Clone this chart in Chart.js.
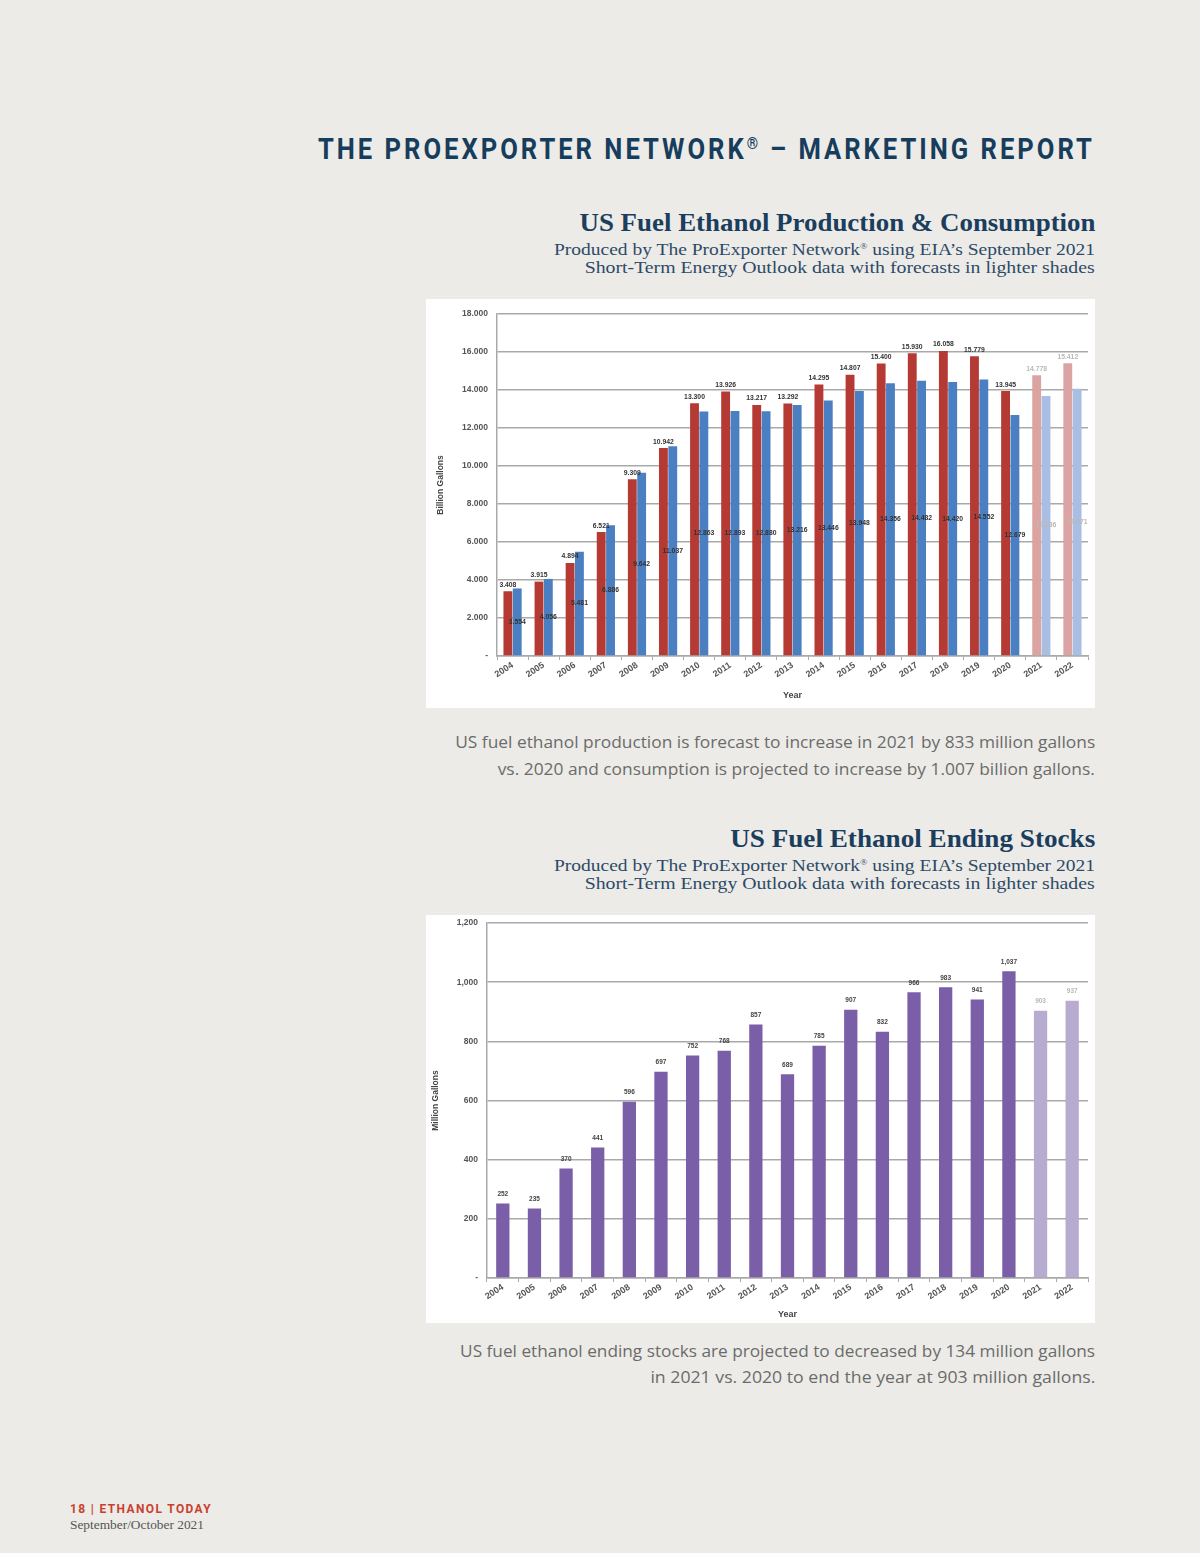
<!DOCTYPE html>
<html>
<head>
<meta charset="utf-8">
<script src="https://cdn.jsdelivr.net/npm/chart.js@4.4.1/dist/chart.umd.min.js"></script>
<style>
  html,body{margin:0;padding:0;}
  body{width:1200px;height:1553px;background:#ecebe7;position:relative;overflow:hidden;}
  .t{position:absolute;white-space:nowrap;margin:0;}
  .r{right:105px;text-align:right;transform-origin:right center;}
  #title{top:128px;font-family:"Roboto","Liberation Sans",sans-serif;font-weight:700;font-size:30px;line-height:30px;color:#173d5d;letter-spacing:3.5px;}
  #title .reg{font-size:17px;vertical-align:10px;letter-spacing:3px;}
  .h{font-family:"Liberation Serif","DejaVu Serif",serif;font-weight:700;font-size:25px;line-height:25px;color:#1c3e5e;}
  .s{font-family:"Liberation Serif","DejaVu Serif",serif;font-size:16px;line-height:16px;color:#2d4a68;}
  .s sup{font-size:8px;vertical-align:6px;line-height:0;}
  .c{font-family:"Open Sans","Lato",sans-serif;font-size:16.5px;line-height:20px;color:#6b6b6b;}
  .box{position:absolute;left:426px;width:669px;background:#ffffff;}
  #foot1{left:70px;top:1502px;font-family:"Roboto","Liberation Sans",sans-serif;font-weight:700;font-size:13px;line-height:13px;color:#c9402e;letter-spacing:1.5px;transform-origin:left center;}
  #foot2{left:70px;top:1519px;font-family:"Liberation Serif",serif;font-size:12px;line-height:12px;color:#555;transform-origin:left center;}
</style>
</head>
<body>
<div id="title" class="t r" data-w="777">THE PROEXPORTER NETWORK<span class="reg">®</span> – MARKETING REPORT</div>

<div class="t r h" style="top:210px" data-w="516">US Fuel Ethanol Production &amp; Consumption</div>
<div class="t r s" style="top:242px" data-w="541">Produced by The ProExporter Network<sup>®</sup> using EIA’s September 2021</div>
<div class="t r s" style="top:260px" data-w="510">Short-Term Energy Outlook data with forecasts in lighter shades</div>

<div class="box" style="top:299px;height:409px;"><canvas id="c1" width="669" height="409"></canvas></div>

<div class="t r c" style="top:732px" data-w="640">US fuel ethanol production is forecast to increase in 2021 by 833 million gallons</div>
<div class="t r c" style="top:759px" data-w="597">vs. 2020 and consumption is projected to increase by 1.007 billion gallons.</div>

<div class="t r h" style="top:826px" data-w="365">US Fuel Ethanol Ending Stocks</div>
<div class="t r s" style="top:858px" data-w="541">Produced by The ProExporter Network<sup>®</sup> using EIA’s September 2021</div>
<div class="t r s" style="top:876px" data-w="510">Short-Term Energy Outlook data with forecasts in lighter shades</div>

<div class="box" style="top:915px;height:408px;"><canvas id="c2" width="669" height="408"></canvas></div>

<div class="t r c" style="top:1341px" data-w="635">US fuel ethanol ending stocks are projected to decreased by 134 million gallons</div>
<div class="t r c" style="top:1367px" data-w="445">in 2021 vs. 2020 to end the year at 903 million gallons.</div>

<div id="foot1" class="t" data-w="142">18 | ETHANOL TODAY</div>
<div id="foot2" class="t" data-w="134">September/October 2021</div>

<script>
// ---------- DATA ----------
const years = ['2004','2005','2006','2007','2008','2009','2010','2011','2012','2013','2014','2015','2016','2017','2018','2019','2020','2021','2022'];
const forecastYears = ['2021','2022'];
const production = [3.408,3.915,4.894,6.521,9.309,10.942,13.300,13.926,13.217,13.292,14.295,14.807,15.400,15.930,16.058,15.779,13.945,14.778,15.412];
const consumption = [3.554,4.056,5.481,6.886,9.642,11.037,12.863,12.893,12.880,13.216,13.446,13.948,14.356,14.482,14.420,14.552,12.679,13.686,14.071];
const endingStocks = [252,235,370,441,596,697,752,768,857,689,785,907,832,966,983,941,1037,903,937];
const ticks1 = [0,2,4,6,8,10,12,14,16,18];
const ticks2 = [0,200,400,600,800,1000,1200];

// ---------- TEXT FITTING (horizontal scale to measured widths) ----------
document.querySelectorAll('[data-w]').forEach(el=>{
  const target = parseFloat(el.dataset.w);
  const w0 = el.getBoundingClientRect().width;
  el.style.transform = 'scaleX(' + (target/w0) + ')';
});

// ---------- CHARTS ----------
const isF = y => forecastYears.includes(y);
const col = (base, light) => years.map(y => isF(y) ? light : base);

const valueLabels = {
  id:'valueLabels',
  afterDatasetsDraw(chart, args, opts){
    const ctx = chart.ctx;
    ctx.save();
    ctx.font = opts.font;
    ctx.textAlign = 'center';
    chart.data.datasets.forEach((ds,i)=>{
      const meta = chart.getDatasetMeta(i);
      const pos = opts.positions[i];
      meta.data.forEach((bar,j)=>{
        const v = ds.data[j];
        const txt = opts.format(v);
        ctx.fillStyle = isF(years[j]) ? opts.lightColor : opts.color;
        let y;
        if(pos==='middle'){ ctx.textBaseline='middle'; y = (bar.y + bar.base)/2; }
        else { ctx.textBaseline='bottom'; y = bar.y - opts.gap; }
        ctx.fillText(txt, bar.x + (opts.dx||0), y);
      });
    });
    ctx.restore();
  }
};

const gridColor = '#a9a9a9';
const fam = 'Liberation Sans, Arial, sans-serif';

function commonX(height, titlePadBottom){
  return {
    offset:true,
    grid:{display:true, drawOnChartArea:false, drawTicks:true, tickLength:4, color:gridColor, offset:true},
    border:{display:true, color:gridColor, width:1.5},
    ticks:{color:'#555', font:{family:fam, size:9, weight:'bold'}, minRotation:33, maxRotation:33, padding:0, autoSkip:false},
    title:{display:true, text:'Year', color:'#444', font:{family:fam, size:9, weight:'bold'}, padding:{top:0,bottom:titlePadBottom}},
    afterFit(s){ s.height = height; }
  };
}
function commonY(width, titleText, titlePad, tickFmt, ticks, max){
  return {
    min:0, max:max,
    afterBuildTicks(s){ s.ticks = ticks.map(v=>({value:v})); },
    grid:{color:gridColor, lineWidth:1.5, drawTicks:false},
    border:{display:true, color:gridColor, width:1.5},
    ticks:{color:'#555', font:{family:fam, size:8.5, weight:'bold'}, padding:9, callback:tickFmt},
    title:{display:true, text:titleText, color:'#444', font:{family:fam, size:8.5, weight:'bold'}, padding:{top:titlePad,bottom:0}},
    afterFit(s){ s.width = width; s.paddingTop = 0; s.paddingBottom = 0; }
  };
}

new Chart(document.getElementById('c1'), {
  type:'bar',
  data:{
    labels: years,
    datasets:[
      {label:'Production', data: production, backgroundColor: col('#b53a34','#dba4a3'), borderWidth:0},
      {label:'Consumption', data: consumption, backgroundColor: col('#4a7fc2','#a9bee2'), borderWidth:0}
    ]
  },
  options:{
    responsive:false, animation:false,
    layout:{padding:{top:15,right:7,left:0,bottom:0}},
    plugins:{
      legend:{display:false}, tooltip:{enabled:false},
      valueLabels:{
        font:'bold 6.8px "Liberation Sans", Arial, sans-serif',
        color:'#333', lightColor:'#b9b9b9', gap:3, dx:0,
        positions:['top','middle'],
        format:v=>v.toFixed(3)
      }
    },
    datasets:{bar:{categoryPercentage:0.6, barPercentage:0.95}},
    scales:{
      x: commonX(52, 7),
      y: commonY(71, 'Billion Gallons', 10, v=> v===0 ? '-' : v.toFixed(3), ticks1, 18)
    }
  },
  plugins:[valueLabels]
});

new Chart(document.getElementById('c2'), {
  type:'bar',
  data:{
    labels: years,
    datasets:[
      {label:'Ending Stocks', data: endingStocks, backgroundColor: col('#7b5ea8','#b8abd0'), borderWidth:0}
    ]
  },
  options:{
    responsive:false, animation:false,
    layout:{padding:{top:8,right:7,left:0,bottom:0}},
    plugins:{
      legend:{display:false}, tooltip:{enabled:false},
      valueLabels:{
        font:'bold 6.5px "Liberation Sans", Arial, sans-serif',
        color:'#444', lightColor:'#b9b9b9', gap:6, dx:0,
        positions:['top'],
        format:v=>v.toLocaleString('en-US')
      }
    },
    datasets:{bar:{categoryPercentage:0.42, barPercentage:1.0}},
    scales:{
      x: commonX(45, 3),
      y: commonY(61, 'Million Gallons', 5, v=> v===0 ? '-' : v.toLocaleString('en-US'), ticks2, 1200)
    }
  },
  plugins:[valueLabels]
});
</script>
</body>
</html>
